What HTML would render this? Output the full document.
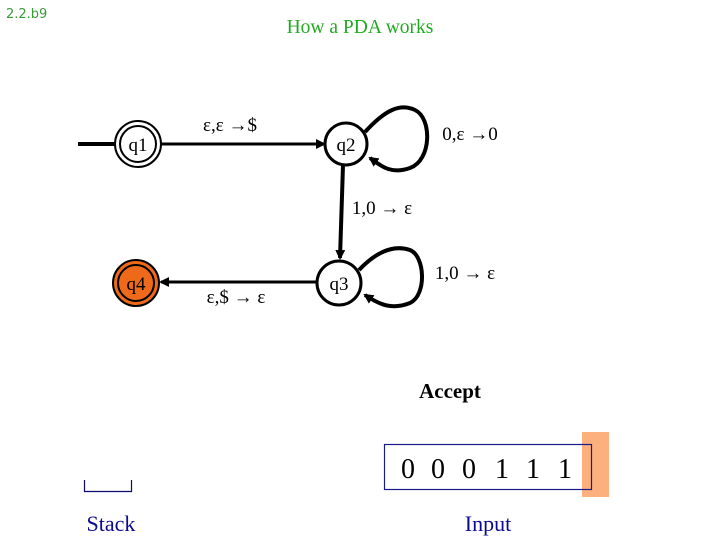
<!DOCTYPE html>
<html><head><meta charset="utf-8"><style>
html,body{margin:0;padding:0;background:#fff;}
svg{display:block;}
text{font-family:"Liberation Serif",serif;}
</style></head><body>
<svg width="720" height="540" viewBox="0 0 720 540" xmlns="http://www.w3.org/2000/svg">
<defs>
<marker id="ah" markerWidth="10" markerHeight="10" refX="8" refY="5" orient="auto" markerUnits="userSpaceOnUse">
<path d="M0,0 L10,5 L0,10 z" fill="#000"/>
</marker>
</defs>
<text x="6" y="18" style="font-family:'DejaVu Sans',sans-serif" font-size="13" fill="#3a9a3a">2.2.b9</text>
<text x="360" y="33" text-anchor="middle" font-size="19.5" fill="#22aa22">How a PDA works</text>

<line x1="78" y1="144" x2="115" y2="144" stroke="#000" stroke-width="4"/>
<circle cx="138" cy="144" r="23" fill="#fff" stroke="#000" stroke-width="2"/>
<circle cx="138" cy="144" r="18" fill="#fff" stroke="#000" stroke-width="2"/>
<text x="138" y="151" text-anchor="middle" font-size="19">q1</text>
<line x1="161" y1="144" x2="324" y2="144" stroke="#000" stroke-width="3" marker-end="url(#ah)"/>
<text x="230" y="131" text-anchor="middle" font-size="19">ε,ε →$</text>
<circle cx="346" cy="144" r="21" fill="#fff" stroke="#000" stroke-width="3"/>
<text x="346" y="151" text-anchor="middle" font-size="19">q2</text>
<path d="M365,132 C385,110 400,103 415,110 C432,118 432,160 410,168 C390,175 380,165 370,158" fill="none" stroke="#000" stroke-width="4" marker-end="url(#ah)"/>
<text x="470" y="140" text-anchor="middle" font-size="19">0,ε →0</text>
<line x1="343" y1="165" x2="340" y2="258" stroke="#000" stroke-width="4" marker-end="url(#ah)"/>
<text x="382" y="214" text-anchor="middle" font-size="19">1,0 → ε</text>
<circle cx="339" cy="283" r="22" fill="#fff" stroke="#000" stroke-width="3"/>
<text x="339" y="290" text-anchor="middle" font-size="19">q3</text>
<path d="M359,270 C378,250 395,245 410,250 C425,256 427,295 410,303 C392,310 380,305 365,295" fill="none" stroke="#000" stroke-width="4" marker-end="url(#ah)"/>
<text x="465" y="279" text-anchor="middle" font-size="19">1,0 → ε</text>
<line x1="317" y1="282" x2="161" y2="282" stroke="#000" stroke-width="3" marker-end="url(#ah)"/>
<text x="236" y="303" text-anchor="middle" font-size="19">ε,$ → ε</text>
<circle cx="136" cy="283" r="23" fill="#ee6a1a" stroke="#000" stroke-width="2"/>
<circle cx="136" cy="283" r="18" fill="#ee6a1a" stroke="#000" stroke-width="2"/>
<text x="136" y="290" text-anchor="middle" font-size="19">q4</text>

<text x="450" y="398" text-anchor="middle" font-size="21" font-weight="bold">Accept</text>

<rect x="582" y="432" width="27" height="65" fill="#fbb07e"/>
<rect x="384.5" y="444.5" width="207" height="45" fill="none" stroke="#1a1a8a" stroke-width="1.2"/>
<g font-size="28" text-anchor="middle">
<text x="408" y="478">0</text><text x="438" y="478">0</text><text x="469" y="478">0</text>
<text x="502" y="478">1</text><text x="533" y="478">1</text><text x="565" y="478">1</text>
</g>
<text x="488" y="531" text-anchor="middle" font-size="22" fill="#0a0a90">Input</text>

<path d="M84.5,480 V491.5 H131.5 V480" fill="none" stroke="#0a0a70" stroke-width="1.2"/>
<text x="111" y="531" text-anchor="middle" font-size="22" fill="#0a0a90">Stack</text>
</svg>
</body></html>
